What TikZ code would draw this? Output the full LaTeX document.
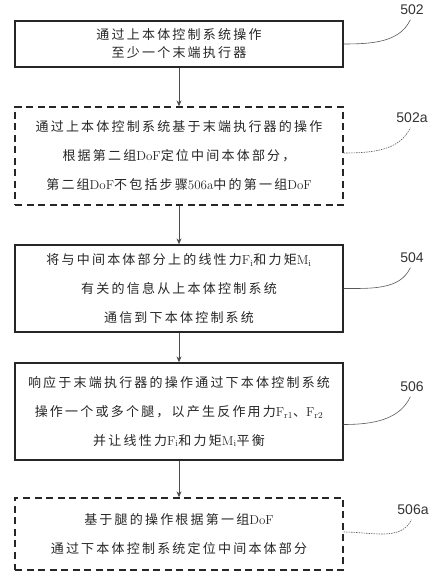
\documentclass[tikz,border=0pt]{standalone}
\usepackage{fontspec}
\newfontfamily\cjk[LetterSpace=17]{Noto Sans CJK SC}
\newfontfamily\numfont{Liberation Sans}
\usetikzlibrary{arrows.meta}
\newcommand{\lat}[1]{{\rmfamily #1}}

\begin{document}
\begin{tikzpicture}[x=1pt,y=1pt]

	\tikzstyle{flow box}=[draw=black!85, line width=1.3pt, minimum width=328pt, inner sep=0pt, align=center, text=black!85, font=\cjk\fontsize{13}{29}\selectfont]
	\tikzstyle{opt box}=[flow box, dash pattern=on 7pt off 4.5pt]
	\tikzstyle{ref num}=[font=\numfont\fontsize{14}{14}\selectfont, text=black!80, inner sep=1pt]
	\tikzstyle{ref line}=[gray!70!black, line width=0.6pt, shorten >=4pt]
	\tikzstyle{opt ref line}=[ref line, dash pattern=on 1.5pt off 1pt]
	\tikzstyle{flow arrow}=[-{Stealth[length=6pt,width=5pt]}, gray!60!black, line width=0.9pt]

	\useasboundingbox (0,0) rectangle (443,577);

	%boxes
	\node [flow box, minimum height=46pt, font=\cjk\fontsize{13}{18}\selectfont] (b502) at (179,533) {通过上本体控制系统操作\\至少一个末端执行器};
	\node [opt box, minimum height=98pt] (b502a) at (179,421) {通过上本体控制系统基于末端执行器的操作\\根据第二组\lat{DoF}定位中间本体部分，\\第二组\lat{DoF}不包括步骤\lat{506a}中的第一组\lat{DoF}};
	\node [flow box, minimum height=87pt] (b504) at (179,288.5) {将与中间本体部分上的线性力\lat{F\textsubscript{i}}和力矩\lat{M\textsubscript{i}}\\有关的信息从上本体控制系统\\通信到下本体控制系统};
	\node [flow box, minimum height=97pt] (b506) at (179,165.5) {响应于末端执行器的操作通过下本体控制系统\\操作一个或多个腿，以产生反作用力\lat{F\textsubscript{r1}}、\lat{F\textsubscript{r2}}\\并让线性力\lat{F\textsubscript{i}}和力矩\lat{M\textsubscript{i}}平衡};
	\node [opt box, minimum height=72pt] (b506a) at (179,43) {基于腿的操作根据第一组\lat{DoF}\\通过下本体控制系统定位中间本体部分};

	%reference numbers
	\node [ref num] (l502) at (412,567) {502};
	\node [ref num] (l502a) at (412,459) {502a};
	\node [ref num] (l504) at (412,319) {504};
	\node [ref num] (l506) at (412,190) {506};
	\node [ref num] (l506a) at (413,67) {506a};

	%arrows between steps
	\draw [flow arrow] (b502.south) -- (b502a.north);
	\draw [flow arrow] (b502a.south) -- (b504.north);
	\draw [flow arrow] (b504.south) -- (b506.north);
	\draw [flow arrow] (b506.south) -- (b506a.north);

	%leader lines
	\draw [ref line] (b502.east) to [out=0, in=-115] (l502.south);
	\draw [opt ref line] ([yshift=3pt]b502a.east) to [out=0, in=-115] (l502a.south);
	\draw [ref line] (b504.east) to [out=0, in=-115] (l504.south);
	\draw [ref line] ([yshift=-13pt]b506.east) to [out=0, in=-115] (l506.south);
	\draw [opt ref line] ([yshift=2pt]b506a.east) to [out=0, in=-115] (l506a.south);

\end{tikzpicture}
\end{document}
